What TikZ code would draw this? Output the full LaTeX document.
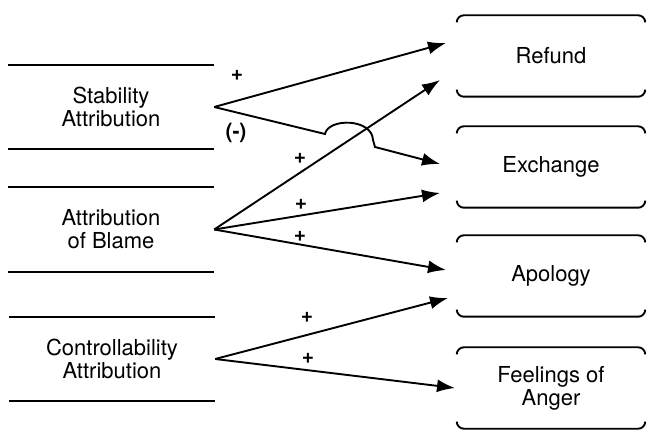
\documentclass[tikz,border=0pt]{standalone}
\usepackage{fontspec}
\setmainfont{TeX Gyre Heros}
\usetikzlibrary{arrows.meta}

\begin{document}
\begin{tikzpicture} [
    x=1pt, y=-1pt,
    edge/.style={-{Latex[length=18pt,width=13pt]}, line width=1.9pt},
    boxLine/.style={line width=1.9pt},
    causeBox/.style={rectangle, align=center, minimum width=206pt, minimum height=84pt, inner sep=0pt, font=\fontsize{22}{23}\selectfont},
    actionBox/.style={rectangle, align=center, minimum width=188pt, minimum height=81pt, inner sep=0pt, font=\fontsize{22}{23}\selectfont},
    sign/.style={inner sep=0pt, font=\fontsize{21}{21}\selectfont\bfseries}
]

\useasboundingbox (0,0) rectangle (648,430);

\node[causeBox] (stability) at (111,107) {Stability\\Attribution};
\node[causeBox] (blame) at (111,229.5) {Attribution\\of Blame};
\node[causeBox] (control) at (112,359) {Controllability\\Attribution};

\foreach \n in {stability,blame,control} {
    \draw[boxLine] (\n.north west) -- (\n.north east);
    \draw[boxLine] (\n.south west) -- (\n.south east);
}

\node[actionBox] (refund) at (551,56) {Refund};
\node[actionBox] (exchange) at (551,167) {Exchange};
\node[actionBox] (apology) at (551,276) {Apology};
\node[actionBox] (anger) at (551,388) {Feelings of\\Anger};

\foreach \n in {refund,exchange,apology,anger} {
    \draw[boxLine, rounded corners=7pt] ([yshift=-6pt]\n.north west) -- (\n.north west) -- (\n.north east) -- ([yshift=-6pt]\n.north east);
    \draw[boxLine, rounded corners=7pt] ([yshift=6pt]\n.south west) -- (\n.south west) -- (\n.south east) -- ([yshift=6pt]\n.south east);
}

\coordinate (refundTop) at (446,43);
\coordinate (refundLow) at (440,80);
\coordinate (exchangeTop) at (440,164);
\coordinate (exchangeLow) at (440,193);
\coordinate (apologyTop) at (446,270);
\coordinate (apologyLow) at (448,298);
\coordinate (angerIn) at (455,388);
\coordinate (hopStart) at (325,134);
\coordinate (hopEnd) at (373,140);
\coordinate (hopFoot) at (375,147);

\draw[edge] (stability.east) -- (refundTop);
\draw[edge] (stability.east) -- (hopStart) .. controls +(3,-16) and +(-1,-22) .. (hopEnd) -- (hopFoot) -- (exchangeTop);

\draw[edge] (blame.east) -- (refundLow);
\draw[edge] (blame.east) -- (exchangeLow);
\draw[edge] (blame.east) -- (apologyTop);

\draw[edge] (control.east) -- (apologyLow);
\draw[edge] (control.east) -- (angerIn);

\node[sign] (signA) at (237,75) {+};
\node[sign] (signB) at (236,133) {(-)};
\node[sign] (signC) at (300,158) {+};
\node[sign] (signD) at (301,204) {+};
\node[sign] (signE) at (300,236) {+};
\node[sign] (signF) at (307,317) {+};
\node[sign] (signG) at (308,358) {+};

\end{tikzpicture}
\end{document}
